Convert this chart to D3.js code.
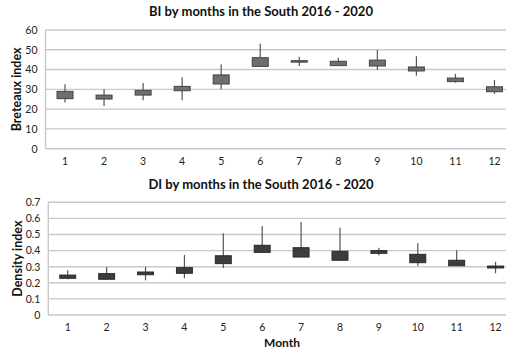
<!DOCTYPE html>
<html>
<head>
<meta charset="utf-8">
<script src="https://cdn.jsdelivr.net/npm/d3@7"></script>
<style>
  body { margin: 0; background: #fff; }
  svg { display: block; font-family: Lato, "Open Sans", sans-serif; }
</style>
</head>
<body>
<svg id="chart" width="506" height="352"></svg>
<script>
const months = ['1', '2', '3', '4', '5', '6', '7', '8', '9', '10', '11', '12'];

// Breteaux index (low, box bottom, box top, high)
const biLow  = [23.3, 21.6, 24.5, 24.5, 30.0, 41.3, 41.8, 42.0, 39.8, 36.9, 33.4, 27.7];
const biQ1   = [25.3, 25.1, 27.1, 29.3, 32.7, 41.6, 43.9, 42.0, 41.8, 39.3, 33.9, 28.8];
const biQ3   = [29.0, 27.1, 29.5, 31.5, 37.3, 46.0, 44.5, 44.2, 44.8, 41.3, 35.7, 31.3];
const biHigh = [32.6, 30.0, 33.2, 36.1, 42.7, 53.1, 46.5, 46.0, 49.9, 46.7, 37.8, 34.7];
const biTicks = [0, 10, 20, 30, 40, 50, 60];

// Density index
const diLow  = [0.222, 0.222, 0.215, 0.228, 0.292, 0.389, 0.360, 0.340, 0.371, 0.306, 0.306, 0.259];
const diQ1   = [0.228, 0.222, 0.250, 0.259, 0.319, 0.389, 0.360, 0.340, 0.383, 0.325, 0.306, 0.292];
const diQ3   = [0.248, 0.257, 0.267, 0.294, 0.368, 0.433, 0.418, 0.396, 0.400, 0.377, 0.340, 0.304];
const diHigh = [0.278, 0.298, 0.298, 0.373, 0.507, 0.553, 0.578, 0.542, 0.418, 0.445, 0.402, 0.331];
const diTicks = [0, 0.1, 0.2, 0.3, 0.4, 0.5, 0.6, 0.7];

const svg = d3.select('#chart');

function drawPanel(opts) {
  const {left, right, top, bottom, low, q1, q3, high, ticks, fmt, boxFill, boxStroke, title, titleY, yTitle, yTitleX} = opts;

  const x = d3.scaleBand().domain(months).range([left, right]);
  const y = d3.scaleLinear().domain([ticks[0], ticks[ticks.length - 1]]).range([bottom, top]);

  const g = svg.append('g');

  // gridlines
  g.append('g')
    .selectAll('line')
    .data(ticks)
    .join('line')
    .attr('x1', left).attr('x2', right)
    .attr('y1', d => y(d)).attr('y2', d => y(d))
    .attr('stroke', '#c9c9c9')
    .attr('stroke-width', 1.4);

  // left axis line
  g.append('line')
    .attr('x1', left).attr('x2', left)
    .attr('y1', top).attr('y2', bottom)
    .attr('stroke', '#c9c9c9')
    .attr('stroke-width', 1.4);

  // y axis labels
  const yAxis = g.append('g')
    .attr('transform', `translate(${left},0)`)
    .call(d3.axisLeft(y).tickValues(ticks).tickFormat(fmt).tickSize(0).tickPadding(8));
  yAxis.select('.domain').remove();
  yAxis.selectAll('text')
    .attr('font-size', 10.5)
    .attr('fill', '#222')
    .style('font-family', 'Lato, sans-serif');

  // x axis labels
  const xAxis = g.append('g')
    .attr('transform', `translate(0,${bottom})`)
    .call(d3.axisBottom(x).tickSize(0).tickPadding(9));
  xAxis.select('.domain').remove();
  xAxis.selectAll('text')
    .attr('font-size', 10.5)
    .attr('fill', '#222')
    .style('font-family', 'Lato, sans-serif');

  const bw = x.bandwidth() * 0.41;
  const cx = i => x(months[i]) + x.bandwidth() / 2;

  // whiskers
  g.append('g')
    .selectAll('line')
    .data(months)
    .join('line')
    .attr('x1', (d, i) => cx(i)).attr('x2', (d, i) => cx(i))
    .attr('y1', (d, i) => y(high[i])).attr('y2', (d, i) => y(low[i]))
    .attr('stroke', '#555')
    .attr('stroke-width', 1.2);

  // boxes
  g.append('g')
    .selectAll('rect')
    .data(months)
    .join('rect')
    .attr('x', (d, i) => cx(i) - bw / 2)
    .attr('width', bw)
    .attr('y', (d, i) => y(q3[i]))
    .attr('height', (d, i) => Math.max(1.5, y(q1[i]) - y(q3[i])))
    .attr('fill', boxFill)
    .attr('stroke', boxStroke)
    .attr('stroke-width', 1);

  // title
  svg.append('text')
    .attr('x', 261).attr('y', titleY)
    .attr('text-anchor', 'middle')
    .attr('font-size', 13)
    .attr('font-weight', 'bold')
    .attr('fill', '#111')
    .text(title);

  // y title
  svg.append('text')
    .attr('transform', `translate(${yTitleX},${(top + bottom) / 2}) rotate(-90)`)
    .attr('text-anchor', 'middle')
    .attr('font-size', 12.5)
    .attr('font-weight', 'bold')
    .attr('fill', '#111')
    .text(yTitle);
}

drawPanel({
  left: 45.5, right: 514, top: 30, bottom: 148.7,
  low: biLow, q1: biQ1, q3: biQ3, high: biHigh,
  ticks: biTicks, fmt: d3.format('d'),
  boxFill: '#6e6e6e', boxStroke: '#444',
  title: 'BI  by months in the South 2016 - 2020', titleY: 16,
  yTitle: 'Breteaux index', yTitleX: 21
});

drawPanel({
  left: 48.3, right: 515, top: 202.3, bottom: 315,
  low: diLow, q1: diQ1, q3: diQ3, high: diHigh,
  ticks: diTicks, fmt: d => d === 0 ? '0' : d3.format('.1f')(d),
  boxFill: '#3d3d3d', boxStroke: '#2a2a2a',
  title: 'DI by months in the South 2016 - 2020', titleY: 189,
  yTitle: 'Density index', yTitleX: 22
});

svg.append('text')
  .attr('x', 282).attr('y', 347)
  .attr('text-anchor', 'middle')
  .attr('font-size', 12)
  .attr('font-weight', 'bold')
  .attr('fill', '#111')
  .text('Month');
</script>
</body>
</html>
